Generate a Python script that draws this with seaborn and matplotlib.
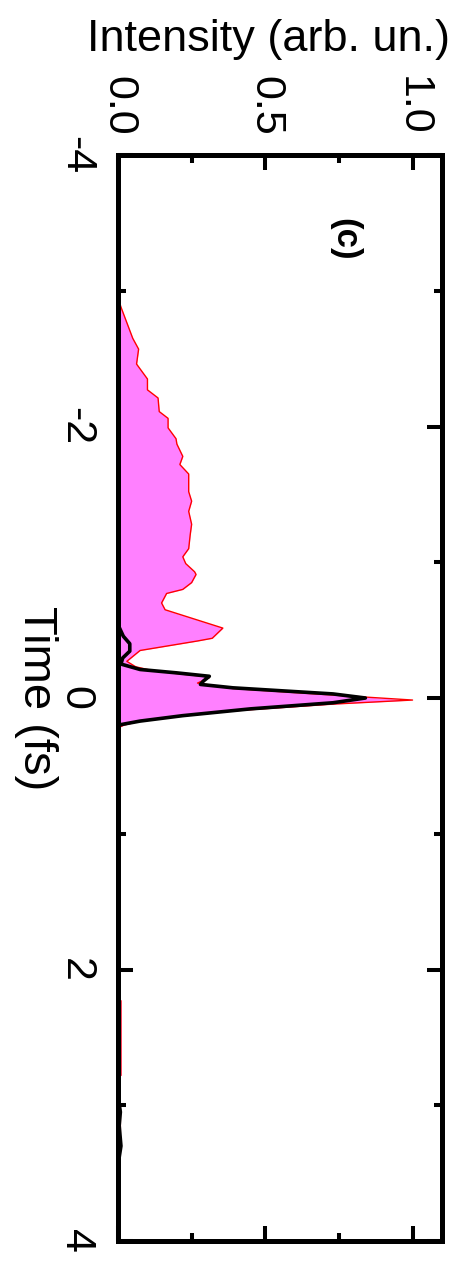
import numpy as np
import pandas as pd
import matplotlib
matplotlib.use("Agg")
import matplotlib.pyplot as plt
import seaborn as sns
from matplotlib.ticker import MultipleLocator

# ---- data (time in fs, intensity in arb. units) ----
t_pink = [-4.0, -2.95, -2.88, -2.65, -2.57, -2.46, -2.35, -2.27, -2.21, -2.11, -2.06,
          -1.99, -1.91, -1.87, -1.78, -1.72, -1.65, -1.52, -1.45, -1.375, -1.28,
          -1.20, -1.10, -1.04, -0.99, -0.93, -0.91, -0.85, -0.80, -0.77, -0.70,
          -0.65, -0.515, -0.44, -0.42, -0.35, -0.27, -0.23, -0.20, -0.175, -0.16,
          -0.15, -0.11, -0.07, -0.03, 0.015, 0.045, 0.095, 0.145, 0.17, 0.20,
          0.22, 2.22, 2.23, 2.78, 2.79, 2.93, 3.00, 3.20, 3.44, 3.45, 4.0]
I_pink = [0.0, 0.0, 0.01, 0.05, 0.07, 0.063, 0.10, 0.10, 0.136, 0.14, 0.17,
          0.17, 0.197, 0.20, 0.22, 0.21, 0.24, 0.24, 0.25, 0.24, 0.25,
          0.245, 0.24, 0.22, 0.23, 0.26, 0.265, 0.25, 0.22, 0.165, 0.148,
          0.16, 0.356, 0.32, 0.27, 0.075, 0.03, 0.06, 0.12, 0.22, 0.29,
          0.31, 0.27, 0.39, 0.67, 1.0, 0.73, 0.39, 0.165, 0.075, 0.02,
          0.0, 0.0, 0.01, 0.01, 0.0, 0.005, 0.008, 0.008, 0.005, 0.0, 0.0]

t_black = [-4.0, -0.54, -0.455, -0.40, -0.345, -0.295, -0.25, -0.21, -0.185, -0.16,
           -0.125, -0.10, -0.075, -0.03, 0.0, 0.035, 0.08, 0.13, 0.17, 0.20,
           2.93, 3.05, 3.15, 3.30, 3.44, 4.0]
I_black = [0.0, 0.0, 0.018, 0.04, 0.04, 0.016, 0.01, 0.075, 0.20, 0.31,
           0.29, 0.28, 0.39, 0.73, 0.84, 0.73, 0.45, 0.22, 0.075, 0.0,
           0.0, 0.008, 0.004, 0.01, 0.0, 0.0]

time_ticks = [-4, -2, 0, 2, 4]
int_ticks = [0.0, 0.5, 1.0]

# ---- style ----
sns.set_theme(style="ticks")
plt.rcParams['font.family'] = ['Liberation Sans', 'DejaVu Sans']
plt.rcParams.update({"text.color": "black", "axes.labelcolor": "black",
                     "xtick.color": "black", "ytick.color": "black",
                     "axes.edgecolor": "black"})

fig = plt.figure(figsize=(4.58, 12.68), dpi=100)
ax = fig.add_axes([118/458, 1-1241/1268, (442-118)/458, (1241-155)/1268])

pink = pd.DataFrame({"time": t_pink, "intensity": I_pink})
black = pd.DataFrame({"time": t_black, "intensity": I_black})

ax.fill_betweenx(pink["time"], 0, pink["intensity"], color="#FF80FF", linewidth=0, zorder=1)
sns.lineplot(data=pink, x="intensity", y="time", sort=False, estimator=None,
             color="#FF0000", linewidth=1.0, ax=ax, zorder=2)
sns.lineplot(data=black, x="intensity", y="time", sort=False, estimator=None,
             color="black", linewidth=2.6, ax=ax, zorder=3)

ax.set_xlim(0, 1.1)
ax.set_ylim(4, -4)

for s in ax.spines.values():
    s.set_linewidth(3.6)
    s.set_color("black")

ax.xaxis.set_major_locator(MultipleLocator(0.5))
ax.xaxis.set_minor_locator(MultipleLocator(0.25))
ax.yaxis.set_major_locator(MultipleLocator(2))
ax.yaxis.set_minor_locator(MultipleLocator(1))
ax.set_xticks(int_ticks)
ax.set_xticklabels([f"{v:.1f}" for v in int_ticks])
ax.set_yticks(time_ticks)
ax.set_yticklabels([str(v) for v in time_ticks])

ax.tick_params(axis="both", which="both", direction="in", top=True, bottom=True,
               left=True, right=True, labeltop=True, labelbottom=False,
               labelleft=True, labelright=False)
ax.tick_params(which="major", length=11, width=2.9)
ax.tick_params(which="minor", length=6, width=2.9)
ax.tick_params(axis="x", which="major", labelsize=31, pad=14, labelrotation=-90)
ax.tick_params(axis="y", which="major", labelsize=31, pad=16, labelrotation=-90)
for lab in ax.get_yticklabels():
    lab.set_va("center")
for lab in ax.get_xticklabels():
    lab.set_ha("center")

ax.set_xlabel("Intensity (arb. un.)", fontsize=32.5)
ax.xaxis.set_label_position("top")
ax.xaxis.set_label_coords(0.463, 1.106)
ax.xaxis.label.set_va("center")

ax.set_ylabel("Time (fs)", fontsize=34, rotation=-90)
ax.yaxis.set_label_coords(-0.253, 0.5)
ax.yaxis.label.set_va("center")
ax.yaxis.label.set_ha("center")

ax.text(0.77, -3.38, "(c)", rotation=-90, fontsize=25, fontweight="bold",
        ha="center", va="center")

fig.savefig("out.png", dpi=100, facecolor="white")
